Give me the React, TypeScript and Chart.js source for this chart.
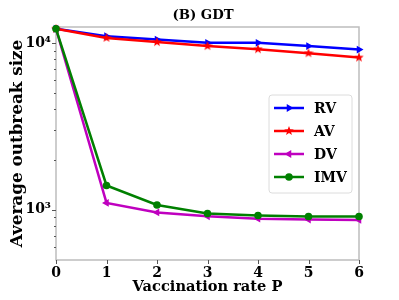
import React, { useEffect, useRef } from 'react';
import { Chart, registerables } from 'chart.js';

Chart.register(...registerables);

const P = [0, 1, 2, 3, 4, 5, 6];
const RV = [12200, 11000, 10500, 10050, 10050, 9600, 9150];
const AV = [12200, 10750, 10150, 9600, 9200, 8700, 8200];
const DV = [12200, 1100, 965, 915, 885, 875, 870];
const IMV = [12200, 1400, 1070, 950, 925, 912, 912];
const NAMES = ['RV', 'AV', 'DV', 'IMV'];
const COLORS = ['#0000ff', '#ff0000', '#bf00bf', '#008000'];
const Y_MAJOR = [1000, 10000];
const Y_MINOR = [600, 700, 800, 900, 2000, 3000, 4000, 5000, 6000, 7000, 8000, 9000];
const TITLE = '(B) GDT';
const X_LABEL = 'Vaccination rate P';
const Y_LABEL = 'Average outbreak size';

const FONT = '"DejaVu Serif", serif';

function makeStar(size: number, color: string) {
  const c = document.createElement('canvas');
  c.width = size;
  c.height = size;
  const ctx = c.getContext('2d')!;
  const cx = size / 2, cy = size / 2, R = size / 2, r = R * 0.42;
  ctx.beginPath();
  for (let i = 0; i < 10; i++) {
    const rad = i % 2 === 0 ? R : r;
    const a = -Math.PI / 2 + (i * Math.PI) / 5;
    ctx.lineTo(cx + rad * Math.cos(a), cy + rad * Math.sin(a));
  }
  ctx.closePath();
  ctx.fillStyle = color;
  ctx.fill();
  return c;
}

function drawMarker(ctx: CanvasRenderingContext2D, kind: number, x: number, y: number, color: string, star: HTMLCanvasElement) {
  ctx.save();
  ctx.fillStyle = color;
  ctx.strokeStyle = color;
  if (kind === 0 || kind === 2) {
    const dir = kind === 0 ? 1 : -1;
    const s = 4.5;
    ctx.beginPath();
    ctx.moveTo(x + dir * s, y);
    ctx.lineTo(x - dir * s * 0.5, y - s * 0.87);
    ctx.lineTo(x - dir * s * 0.5, y + s * 0.87);
    ctx.closePath();
    ctx.fill();
  } else if (kind === 1) {
    ctx.drawImage(star, x - star.width / 2, y - star.height / 2);
  } else {
    ctx.beginPath();
    ctx.arc(x, y, 3.8, 0, Math.PI * 2);
    ctx.fill();
  }
  ctx.restore();
}

export default function App() {
  const ref = useRef<HTMLCanvasElement>(null);

  useEffect(() => {
    const canvas = ref.current!;
    const star = makeStar(10, COLORS[1]);
    const series = [RV, AV, DV, IMV];
    const styles: any[] = ['triangle', star, 'triangle', 'circle'];
    const rotations = [90, 0, -90, 0];
    const radii = [4.5, 5, 4.5, 3.8];

    const frame = {
      id: 'frame',
      beforeDatasetsDraw(chart: any) {
        const { ctx, chartArea: a, scales } = chart;
        ctx.save();
        ctx.strokeStyle = '#bdbdbd';
        ctx.lineWidth = 1.5;
        ctx.strokeRect(a.left, a.top, a.right - a.left, a.bottom - a.top);
        ctx.strokeStyle = '#555';
        ctx.lineWidth = 1;
        const y = scales.y;
        for (const v of Y_MAJOR) {
          const py = Math.round(y.getPixelForValue(v)) + 0.5;
          ctx.beginPath();
          ctx.moveTo(a.left - 4, py);
          ctx.lineTo(a.left, py);
          ctx.stroke();
        }
        for (const v of Y_MINOR) {
          const py = Math.round(y.getPixelForValue(v)) + 0.5;
          ctx.beginPath();
          ctx.moveTo(a.left - 2, py);
          ctx.lineTo(a.left, py);
          ctx.stroke();
        }
        const x = scales.x;
        for (const v of P) {
          const px = Math.round(x.getPixelForValue(v)) + 0.5;
          ctx.beginPath();
          ctx.moveTo(px, a.bottom);
          ctx.lineTo(px, a.bottom + 4);
          ctx.stroke();
        }
        ctx.restore();
      },
      afterDraw(chart: any) {
        const { ctx } = chart;
        ctx.save();
        ctx.fillStyle = '#000';
        ctx.font = 'bold 13.3px ' + FONT;
        ctx.textAlign = 'center';
        ctx.textBaseline = 'middle';
        ctx.fillText(TITLE, 203, 16);
        const bx = 269, by = 95, bw = 83, bh = 98;
        ctx.beginPath();
        ctx.roundRect(bx, by, bw, bh, 3);
        ctx.fillStyle = 'rgba(255,255,255,0.8)';
        ctx.fill();
        ctx.strokeStyle = '#dcdcdc';
        ctx.lineWidth = 1;
        ctx.stroke();
        const rows = [108, 131, 154, 177];
        ctx.font = 'bold 14px ' + FONT;
        ctx.textAlign = 'left';
        for (let i = 0; i < 4; i++) {
          const ry = rows[i];
          ctx.strokeStyle = COLORS[i];
          ctx.lineWidth = 2.5;
          ctx.beginPath();
          ctx.moveTo(274, ry);
          ctx.lineTo(304, ry);
          ctx.stroke();
          drawMarker(ctx, i, 289, ry, COLORS[i], star);
          ctx.fillStyle = '#000';
          ctx.fillText(NAMES[i], 314, ry + 1);
        }
        ctx.restore();
      },
    };

    const chart = new Chart(canvas, {
      type: 'line',
      data: {
        datasets: series.map((s, i) => ({
          label: NAMES[i],
          data: P.map((p, k) => ({ x: p, y: s[k] })),
          borderColor: COLORS[i],
          backgroundColor: COLORS[i],
          borderWidth: 2.5,
          pointStyle: styles[i],
          rotation: rotations[i],
          pointRadius: radii[i],
          pointBorderWidth: 0,
          tension: 0,
          order: 4 - i,
          clip: false as any,
        })),
      },
      options: {
        responsive: false,
        animation: false,
        layout: { padding: { top: 27, right: 40, left: 0, bottom: 0 } },
        plugins: {
          legend: { display: false },
          tooltip: { enabled: false },
        },
        scales: {
          x: {
            type: 'linear',
            min: 0,
            max: 6,
            afterBuildTicks: (s: any) => { s.ticks = P.map((v) => ({ value: v })); },
            afterFit: (s: any) => { s.height = 40; },
            grid: { display: false, drawTicks: false },
            border: { display: false },
            ticks: {
              color: '#000',
              padding: 5,
              font: { family: FONT, weight: 'bold', size: 14 },
              callback: (v: any) => String(v),
              maxRotation: 0,
            },
            title: {
              display: true,
              text: X_LABEL,
              color: '#000',
              font: { family: FONT, weight: 'bold', size: 14.6 },
              padding: { top: 0, bottom: 4 },
            },
          },
          y: {
            type: 'logarithmic',
            min: 500,
            max: 12500,
            afterBuildTicks: (s: any) => { s.ticks = Y_MAJOR.map((v) => ({ value: v })); },
            afterFit: (s: any) => { s.width = 56; },
            grid: { display: false, drawTicks: false },
            border: { display: false },
            ticks: {
              color: '#000',
              padding: 5,
              font: { family: FONT, weight: 'bold', size: 14 },
              callback: (v: any) => (v === 1000 ? '10³' : v === 10000 ? '10⁴' : ''),
            },
            title: {
              display: true,
              text: Y_LABEL,
              color: '#000',
              font: { family: FONT, weight: 'bold', size: 16.8 },
              padding: { top: 8, bottom: 0 },
            },
          },
        },
      },
      plugins: [frame],
    });
    return () => chart.destroy();
  }, []);

  return (
    <div style={{ position: 'absolute', left: 0, top: 0, width: 399, height: 300, background: '#fff' }}>
      <canvas ref={ref} width={399} height={300} />
    </div>
  );
}
